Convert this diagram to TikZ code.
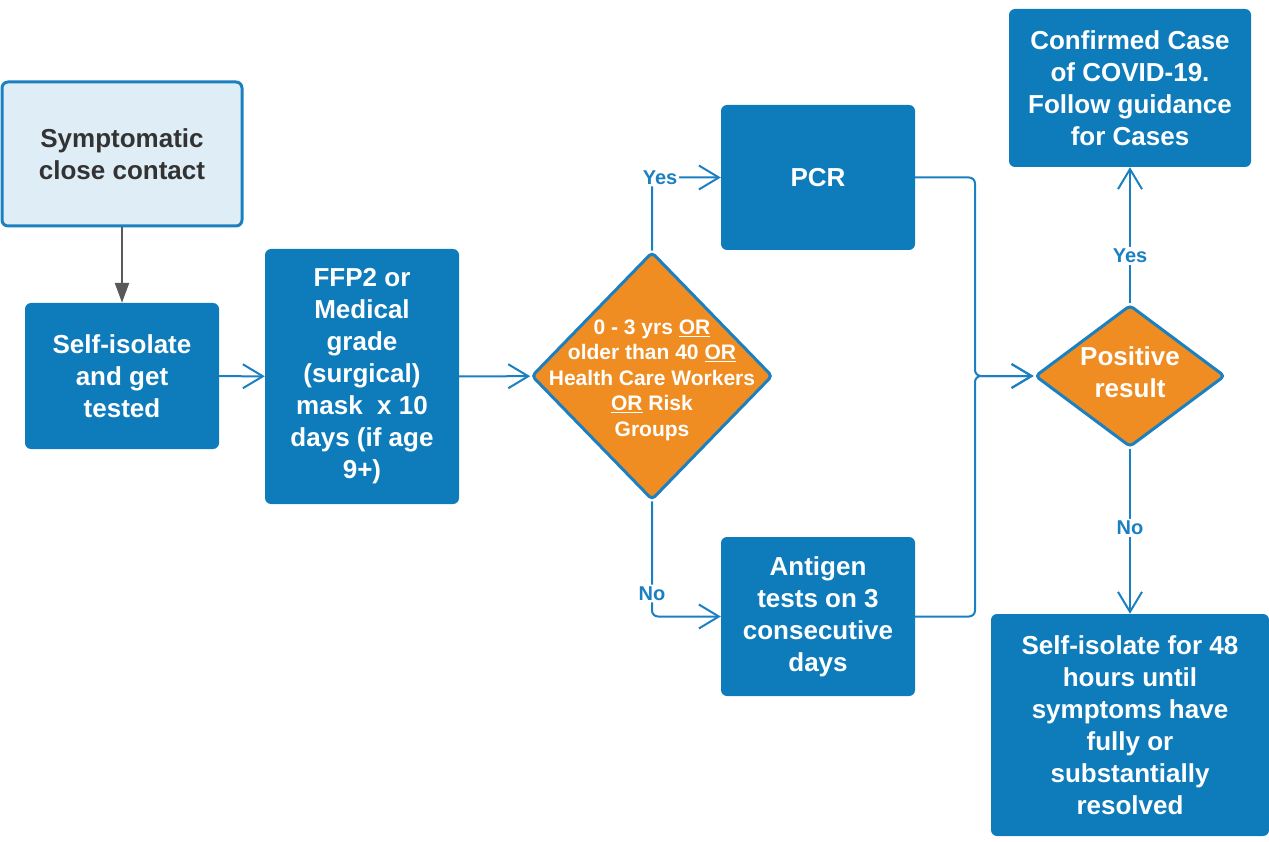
\documentclass[tikz,border=0pt]{standalone}
\usepackage{fontspec}
\setmainfont{Liberation Sans}
\usepackage{tikz}
\usetikzlibrary{shapes.geometric,arrows.meta}
\definecolor{boxblue}{HTML}{0E7CBB}
\definecolor{lineblue}{HTML}{1B80C2}
\definecolor{paleblue}{HTML}{DFEDF7}
\definecolor{decorange}{HTML}{EF8D22}
\definecolor{darktext}{HTML}{333333}
\definecolor{darkgray}{HTML}{595959}

\tikzset{
  box/.style={rectangle, rounded corners=6pt, fill=boxblue, text=white,
    font=\fontsize{26}{32}\selectfont\bfseries, align=center, inner sep=0pt},
  startbox/.style={box, fill=paleblue, draw=lineblue, line width=3pt, text=darktext},
  decision/.style={diamond, rounded corners=4pt, fill=decorange, draw=lineblue,
    line width=3pt, inner sep=0pt},
  dtext/.style={text=white, align=center, inner sep=0pt,
    font=\fontsize{26}{32}\selectfont\bfseries},
  flow/.style={draw=lineblue, line width=2pt, rounded corners=6pt,
    -{Straight Barb[length=20pt,width=24pt]}},
  grayflow/.style={draw=darkgray, line width=2.5pt,
    -{Triangle[length=20pt,width=14pt]}},
  lbl/.style={fill=white, text=lineblue, inner sep=2pt,
    font=\fontsize{20}{24}\selectfont\bfseries}
}

\begin{document}
\begin{tikzpicture}[x=1pt, y=1pt]
    \useasboundingbox (0,0) rectangle (1269,-842);

    \node[startbox, minimum width=240pt, minimum height=144pt] (sym) at (122,-154) {Symptomatic\\close contact};
    \node[box, minimum width=194pt, minimum height=146pt] (iso) at (122,-376) {Self-isolate\\and get\\tested};
    \node[box, minimum width=194pt, minimum height=255pt] (mask) at (362,-376.5)
      {FFP2 or\\Medical\\grade\\(surgical)\\mask~~x 10\\days (if age\\9+)};
    \node[decision, minimum width=241pt, minimum height=248pt,
      label={[dtext, yshift=-4pt, font=\fontsize{21}{25.5}\selectfont\bfseries]center:{0 - 3 yrs \underline{OR}\\older than 40 \underline{OR}\\Health Care Workers\\\underline{OR} Risk\\Groups}}] (age) at (652,-376) {};
    \node[box, minimum width=194pt, minimum height=145pt] (pcr) at (818,-177.5) {PCR};
    \node[box, minimum width=194pt, minimum height=159pt] (ag) at (818,-616.5)
      {Antigen\\tests on 3\\consecutive\\days};
    \node[decision, minimum width=190pt, minimum height=142pt,
      label={[dtext, yshift=4pt]center:{Positive\\result}}] (pos) at (1130,-376) {};
    \node[box, minimum width=242pt, minimum height=158pt] (conf) at (1130,-88)
      {Confirmed Case\\of COVID-19.\\Follow guidance\\for Cases};
    \node[box, minimum width=278pt, minimum height=222pt] (wait) at (1130,-725)
      {Self-isolate for 48\\hours until\\symptoms have\\fully or\\substantially\\resolved};
    \coordinate (join) at (975,-376);

    \draw[grayflow] (sym) -- (iso);
    \draw[flow] (iso) edge (mask)
                (mask) edge (age)
                (pos) edge node[lbl, pos=0.35] {Yes} (conf)
                (pos) edge node[lbl, pos=0.48] {No} (wait);
    \draw[flow] (age) |- node[lbl, pos=0.5, xshift=8pt] {Yes} (pcr);
    \draw[flow] (age) |- node[lbl, pos=0.4] {No} (ag);
    \draw[flow] (pcr) -| (join) -- (pos);
    \draw[flow] (ag) -| (join) -- (pos);
\end{tikzpicture}
\end{document}
